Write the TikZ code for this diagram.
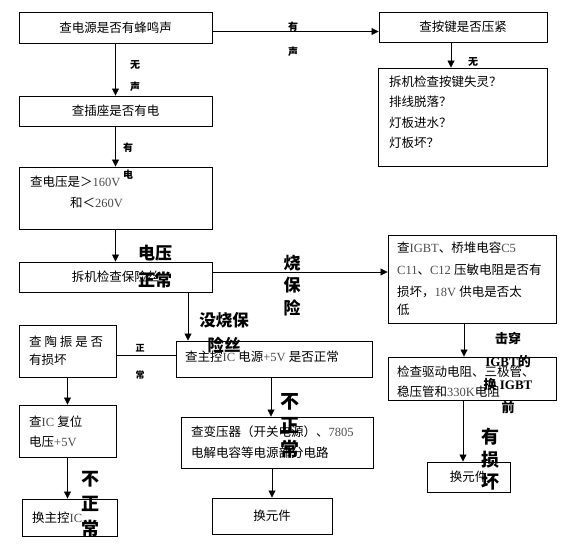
\documentclass[tikz,border=0pt]{standalone}
\usepackage{fontspec}
\setmainfont{Noto Sans CJK SC}
\newfontfamily\lat{Liberation Serif}
\usetikzlibrary{arrows.meta}
\newcommand\lgr[1]{{\lat\color{black!70}#1}}
\begin{document}
\begin{tikzpicture}[x=1pt,y=-1pt,
  box/.style={draw,line width=0.9pt,inner sep=0pt,font=\fontsize{12.5}{14}\selectfont},
  arr/.style={-{Triangle[length=7pt,width=7pt]},line width=0.8pt},
  con/.style={line width=0.8pt},
  txt/.style={inner sep=0pt,anchor=west,font=\fontsize{12.5}{14}\selectfont},
  lab/.style={inner sep=0pt,align=center,font=\bfseries\fontsize{10}{22}\selectfont},
  big/.style={inner sep=0pt,align=center,font=\bfseries\fontsize{17}{24}\selectfont}]
\useasboundingbox (0,0) rectangle (575,549);

% boxes
\node[box,minimum width=193pt,minimum height=31pt] (b1) at (115.5,27.5) {查电源是否有蜂鸣声};
\node[box,minimum width=193pt,minimum height=30pt] (b2) at (115.5,111) {查插座是否有电};
\node[box,minimum width=193pt,minimum height=62pt] (b3) at (115.5,198) {};
\node[box,minimum width=193pt,minimum height=30pt] (b4) at (115.5,277) {拆机检查保险丝};
\node[box,minimum width=168pt,minimum height=30pt] (k1) at (463,27) {查按键是否压紧};
\node[box,minimum width=169pt,minimum height=98pt] (k2) at (462.5,117) {};
\node[box,minimum width=168pt,minimum height=88pt] (g1) at (472,279) {};
\node[box,minimum width=168pt,minimum height=43pt] (g2) at (472,378.5) {};
\node[box,minimum width=83pt,minimum height=30pt] (g3) at (468.5,477) {换元件};
\node[box,minimum width=196pt,minimum height=36pt] (m) at (274,359) {};
\node[box,minimum width=97pt,minimum height=52pt] (t) at (67.5,351) {};
\node[box,minimum width=97pt,minimum height=52pt] (r) at (67.5,431) {};
\node[box,minimum width=95pt,minimum height=37pt] (h) at (69.5,517.5) {};
\node[box,minimum width=192pt,minimum height=51pt] (b) at (277,442.5) {};
\node[box,minimum width=120pt,minimum height=36pt] (e) at (272,516) {换元件};

% box texts
\node[txt] (t3a) at (30,182) {查电压是＞\lgr{160V}};
\node[txt] (t3b) at (70,203) {和＜\lgr{260V}};
\node[txt] (k2a) at (389,82) {拆机检查按键失灵？};
\node[txt] (k2b) at (389,102) {排线脱落？};
\node[txt] (k2c) at (389,123) {灯板进水？};
\node[txt] (k2d) at (389,143) {灯板坏？};
\node[txt] (g1a) at (397,248) {查\lgr{ IGBT}、桥堆电容\lgr{ C5}};
\node[txt] (g1b) at (397,270) {\lgr{C11}、\lgr{C12 }压敏电阻是否有};
\node[txt] (g1c) at (397,292) {损坏，\lgr{18V }供电是否太};
\node[txt] (g1d) at (397,310) {低};
\node[txt] (g2a) at (397,372) {检查驱动电阻、三极管、};
\node[txt] (g2b) at (397,392) {稳压管和\lgr{330K}电阻};
\node[txt] (ma) at (185,357) {查主控\lgr{ IC }电源\lgr{+5V }是否正常};
\node[txt] (ta) at (29,342) {\makebox[74pt][s]{查\hfill 陶\hfill 振\hfill 是\hfill 否}};
\node[txt] (tb) at (29,360) {有损坏};
\node[txt] (ra) at (29,422) {查\lgr{ IC }复位};
\node[txt] (rb) at (29,442) {电压\lgr{+5V}};
\node[txt] (ha) at (32,518) {换主控\lgr{ IC}};
\node[txt] (ba) at (191,432) {查变压器（开关电源）、\lgr{7805}};
\node[txt] (bb) at (191,453) {电解电容等电源部分电路};

% connectors
\draw[arr] (b1.south) -- (b2.north);
\draw[arr] (b2.south) -- (b3.north);
\draw[arr] (b3.south) -- (b4.north);
\draw[arr] ([yshift=-4pt]b1.east) -- ([yshift=-4pt]b1.east -| k1.west);
\draw[arr] ([xshift=-12pt]k1.south) -- ([xshift=-12pt]k1.south |- k2.north);
\draw[arr] ([yshift=5pt]b4.east) -- ([yshift=5pt]b4.east -| g1.west);
\draw[arr] ([xshift=72.5pt]b4.south) -- ([xshift=72.5pt]b4.south |- m.north);
\draw[con] ([yshift=-4pt]t.east) -- ([yshift=-4pt]t.east -| m.west);
\draw[arr] (t.south) -- (r.north);
\draw[arr] (r.south) -- (r.south |- h.north);
\draw[arr] ([xshift=-3pt]m.south) -- ([xshift=-3pt]m.south |- b.north);
\draw[arr] (b.south -| e.north) -- (e.north);
\draw[arr] ([xshift=-8pt]g1.south) -- ([xshift=-8pt]g1.south |- g2.north);
\draw[arr] ([xshift=-9pt]g2.south) -- ([xshift=-9pt]g2.south |- g3.north);

% labels
\node[lab] (l1) at (135,76) {无\\声};
\node[lab,font=\bfseries\fontsize{10}{27}\selectfont] (l2) at (128,161.5) {有\\电};
\node[lab,font=\bfseries\fontsize{10}{25}\selectfont] (l3) at (293,39.5) {有\\声};
\node[lab] (l4) at (473,62) {无};
\node[lab,font=\bfseries\fontsize{9}{27}\selectfont] (l5) at (140,361.5) {正\\常};
\node[big,font=\bfseries\fontsize{17}{27}\selectfont] (l6) at (155,266.5) {电压\\正常};
\node[big,font=\bfseries\fontsize{17}{22.5}\selectfont] (l7) at (292,285.5) {烧\\保\\险};
\node[big,font=\bfseries\fontsize{16.5}{25}\selectfont] (l8) at (224,332.5) {没烧保\\险丝};
\node[big,font=\bfseries\fontsize{18}{25}\selectfont] (l9) at (90,504) {不\\正\\常};
\node[big,font=\bfseries\fontsize{19}{24}\selectfont] (l10) at (290,426) {不\\正\\常};
\node[big,font=\bfseries\fontsize{18}{22.5}\selectfont] (l11) at (490,459.5) {有\\损\\坏};
\node[big,font=\bfseries\fontsize{13}{23}\selectfont] (l12) at (508,372.5) {击穿\\{\lat\bfseries IGBT}的\\换{\lat\bfseries\ IGBT}\\前};
\end{tikzpicture}
\end{document}
